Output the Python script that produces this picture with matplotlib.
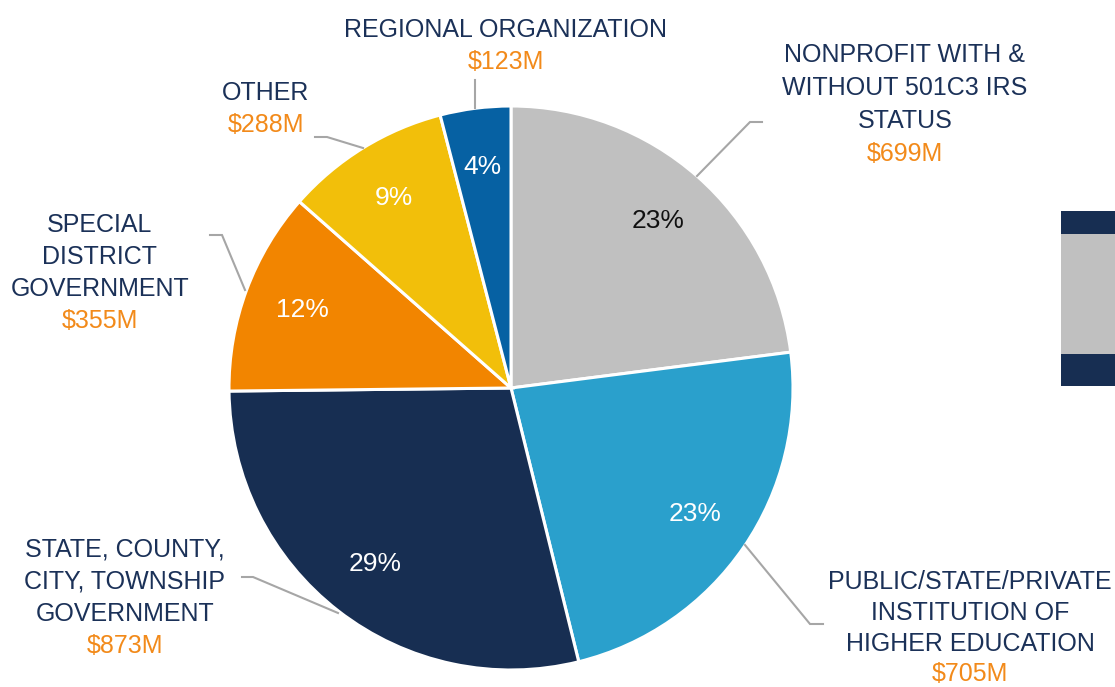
import matplotlib
matplotlib.use("Agg")
import matplotlib.pyplot as plt

W, H = 1115, 687

categories = [
    "NONPROFIT WITH &\nWITHOUT 501C3 IRS\nSTATUS",
    "PUBLIC/STATE/PRIVATE\nINSTITUTION OF\nHIGHER EDUCATION",
    "STATE, COUNTY,\nCITY, TOWNSHIP\nGOVERNMENT",
    "SPECIAL\nDISTRICT\nGOVERNMENT",
    "OTHER",
    "REGIONAL ORGANIZATION",
]
values_musd = [699, 705, 873, 355, 288, 123]
colors = ["#c0c0c0", "#2aa0cc", "#172e52", "#f28500", "#f2bf0a", "#0661a3"]
pct_colors = ["#111111", "white", "white", "white", "white", "white"]

NAVY = "#1b3158"
ORANGE = "#f28a1a"
LINE = "#a6a6a6"
FONT = "Liberation Sans"
FS = 18
PFS = 19

fig = plt.figure(figsize=(W / 100, H / 100), dpi=100)
ax = fig.add_axes([0, 0, 1, 1])

def Y(y):
    return H - y

wedges, texts, autotexts = ax.pie(
    values_musd, colors=colors, startangle=90, counterclock=False,
    center=(511, Y(388)), radius=282, autopct="%1.0f%%", pctdistance=0.79,
    wedgeprops=dict(edgecolor="white", linewidth=2.2),
    textprops=dict(fontsize=PFS, family=FONT),
)
for t, c in zip(autotexts, pct_colors):
    t.set_color(c)

# label anchor: (center x, top line y, line spacing)
label_pos = [
    (905, 55, 33),
    (970, 582, 30.8),
    (125, 550, 32),
    (100, 225, 32),
    (266, 93, 32),
    (506, 30, 32),
]
for cat, v, (lx, ly, sp) in zip(categories, values_musd, label_pos):
    lines = cat.split("\n")
    for i, ln in enumerate(lines):
        ax.text(lx, Y(ly + i * sp), ln, ha="center", va="center",
                color=NAVY, fontsize=FS, family=FONT)
    ax.text(lx, Y(ly + len(lines) * sp), f"${v}M", ha="center", va="center",
            color=ORANGE, fontsize=FS, family=FONT)

# leader lines
leaders = [
    [(762, 122), (750, 122), (697, 176)],
    [(823, 624), (810, 624), (745, 545)],
    [(242, 577), (253, 577), (338, 613)],
    [(210, 235), (222, 235), (245, 290)],
    [(315, 137), (327, 137), (363, 148)],
    [(475, 80), (475, 108)],
]
for pts in leaders:
    ax.plot([p[0] for p in pts], [Y(p[1]) for p in pts], color=LINE, lw=1.5,
            solid_joinstyle="miter")

# partial legend-like block at right edge
ax.add_patch(plt.Rectangle((1061, Y(234)), 60, 23, color="#172e52", lw=0))
ax.add_patch(plt.Rectangle((1061, Y(354)), 60, 120, color="#c0c0c0", lw=0))
ax.add_patch(plt.Rectangle((1061, Y(386)), 60, 32, color="#172e52", lw=0))

ax.set_xlim(0, W)
ax.set_ylim(0, H)
ax.set_aspect("auto")
ax.axis("off")
fig.savefig("out.png", dpi=100)
